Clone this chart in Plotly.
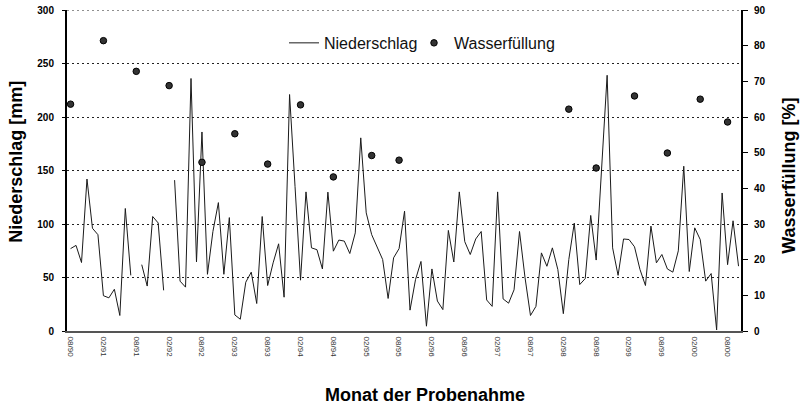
import plotly.graph_objects as go

# ---- categories: monthly samples 08/90 .. 10/00 ----
start_year, start_month, n_months = 1990, 8, 123
months = []
for k in range(n_months):
    m = (start_month - 1 + k) % 12 + 1
    y = start_year + (start_month - 1 + k) // 12
    months.append(f"{m:02d}/{y % 100:02d}")

tick_labels = months[::6]

# ---- Niederschlag [mm] (None = no data) ----
niederschlag = [
    77, 80, 64, 142, 96, 90, 33, 31, 39, 14.5, 114.5, 52,
    None, 62, 42, 107, 101, 38, None, 141, 46.6, 41, 236, 64.6,
    186, 53, 93, 120, 53, 106, 15, 11, 45.6, 55, 25.7, 107,
    42.5, 63.7, 81.5, 31.6, 221, 135, 47.5, 130, 77.7, 76, 58, 129.8,
    74.6, 85, 84, 72.4, 91.7, 180.5, 110.4, 90, 77.7, 66.8, 30.4, 68.4,
    77, 112, 19.5, 48, 65, 4.5, 58, 28, 20, 94, 64.5, 130,
    83.5, 71.5, 86, 93, 29, 23, 130, 30, 26, 38.5, 93, 50,
    14.5, 23, 73, 60.5, 77.7, 57.4, 16.2, 66.8, 100.8, 43.4, 49, 108,
    66.3, 155, 239, 77.7, 52, 86, 85.5, 78.7, 57.5, 42.5, 98, 63.7,
    71.5, 58, 55, 74.9, 154, 55.6, 96.4, 85.5, 46.6, 53.7, 1, 129,
    62, 103, 60.6,
]

# ---- Wasserfüllung [%] ----
wasser_months = ["08/90", "02/91", "08/91", "02/92", "08/92", "02/93", "08/93",
                 "02/94", "08/94", "03/95", "08/95", "03/98", "08/98", "03/99",
                 "09/99", "03/00", "08/00"]
wasser_values = [63.6, 81.4, 72.8, 68.8, 47.3, 55.3, 46.8,
                 63.4, 43.2, 49.2, 47.9, 62.2, 45.7, 65.9,
                 49.9, 65.0, 58.6]

y_max = 300
y2_max = 90

FONT = "Arial, Liberation Sans, sans-serif"
GRID_DASH = "2px,3px"
GRID_COLOR = "#222222"

fig = go.Figure()
fig.add_trace(go.Scatter(
    x=months, y=niederschlag, name="Niederschlag", mode="lines",
    line=dict(color="#1a1a1a", width=1), connectgaps=False,
    legend="legend",
))
fig.add_trace(go.Scatter(
    x=wasser_months, y=wasser_values, name="Wasserfüllung", mode="markers",
    marker=dict(color="#333333", size=6.5, line=dict(color="#000000", width=1)),
    yaxis="y2", legend="legend2",
))

W, H = 802, 409
L, T = 67, 10
R = W - 741
B = H - 331.5
pw, ph = W - L - R, H - T - B

def px(x):  # screen x -> paper
    return (x - L) / pw

def py(y):  # screen y -> paper
    return (H - B - y) / ph

legend_common = dict(orientation="h", xanchor="left", yanchor="middle",
                     font=dict(size=16, family=FONT, color="#111111"),
                     bgcolor="rgba(0,0,0,0)")

fig.update_layout(
    width=W, height=H,
    margin=dict(l=L, r=R, t=T, b=B, pad=0, autoexpand=False),
    paper_bgcolor="white", plot_bgcolor="white",
    font=dict(family=FONT, color="#000000"),
    showlegend=True,
    legend=dict(x=px(284), y=py(43), **legend_common),
    legend2=dict(x=px(414), y=py(43), **legend_common),
    xaxis=dict(
        type="category", categoryorder="array", categoryarray=months,
        range=[-0.65, 122.45], automargin=False,
        tickmode="array", tickvals=tick_labels, ticktext=tick_labels,
        tickangle=90, tickfont=dict(size=8, color="#333333", family=FONT),
        showgrid=False, zeroline=False,
        showline=True, linecolor="#555555", linewidth=2,
        ticks="", ticklabelstandoff=2,
    ),
    yaxis=dict(
        range=[0, y_max], dtick=50, tick0=0, automargin=False,
        showgrid=True, gridcolor=GRID_COLOR, gridwidth=1, griddash=GRID_DASH,
        zeroline=False,
        showline=True, linecolor="#000000", linewidth=2,
        ticks="outside", ticklen=3, tickcolor="#000000",
        tickfont=dict(size=10, family=FONT, weight="bold"),
        ticklabelstandoff=6,
    ),
    yaxis2=dict(
        range=[0, y2_max], dtick=10, tick0=0, overlaying="y", side="right",
        automargin=False,
        showgrid=False, zeroline=False,
        showline=True, linecolor="#000000", linewidth=2,
        ticks="outside", ticklen=5, tickcolor="#000000",
        tickfont=dict(size=10, family=FONT, weight="bold"),
        ticklabelstandoff=4,
    ),
    # top gridline (plotly skips the gridline that lies on the plot edge)
    shapes=[dict(type="line", xref="paper", yref="y", x0=0, x1=1,
                 y0=y_max, y1=y_max, layer="below",
                 line=dict(color=GRID_COLOR, width=1, dash=GRID_DASH))],
    annotations=[
        dict(text="Niederschlag [mm]", xref="paper", yref="paper",
             x=px(16), y=py(162), showarrow=False, textangle=-90,
             xanchor="center", yanchor="middle",
             font=dict(size=18, family=FONT, weight="bold")),
        dict(text="Wasserfüllung [%]", xref="paper", yref="paper",
             x=px(789), y=py(176), showarrow=False, textangle=-90,
             xanchor="center", yanchor="middle",
             font=dict(size=18, family=FONT, weight="bold")),
        dict(text="Monat der Probenahme", xref="paper", yref="paper",
             x=px(425), y=py(396), showarrow=False,
             xanchor="center", yanchor="middle",
             font=dict(size=18, family=FONT, weight="bold")),
    ],
)

# remove the default 8px page margin so the figure fills the window exactly
fig.write_html("out.html",
               config={"displayModeBar": False},
               post_script="document.body.style.margin='0';document.body.style.padding='0';")
